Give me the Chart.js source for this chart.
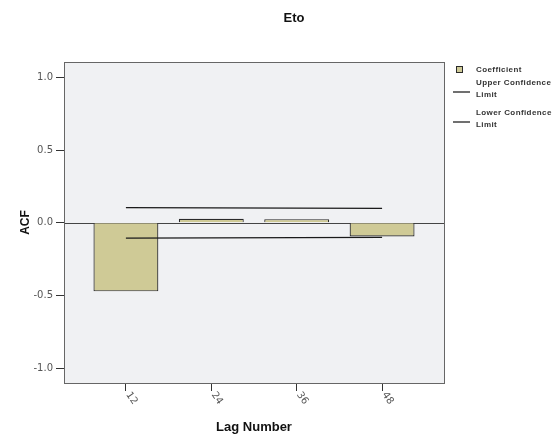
<!DOCTYPE html>
<html>
<head>
<meta charset="utf-8">
<script src="https://cdn.jsdelivr.net/npm/chart.js@4"></script>
<style>
  html, body { margin: 0; padding: 0; background: #fff; }
  #wrap { width: 557px; height: 435px; position: relative; }
</style>
</head>
<body>
<div id="wrap"><canvas id="acf"></canvas></div>
<script>
const chartTitle = 'Eto';
const lags = [12, 24, 36, 48];
const coefficient = [-0.472, 0.027, 0.025, -0.094];
const upperLimit = [0.105, 0.103, 0.101, 0.099];
const lowerLimit = [-0.105, -0.104, -0.102, -0.100];
const yTicks = [-1.0, -0.5, 0.0, 0.5, 1.0];
const legendItems = [
  { kind: 'box', lines: ['Coefficient'] },
  { kind: 'line', lines: ['Upper Confidence', 'Limit'] },
  { kind: 'line', lines: ['Lower Confidence', 'Limit'] }
];

const barFill = '#cfca96';
const edge = '#2a2a2a';

const pts = arr => arr.map((v, i) => ({ x: lags[i], y: v }));

const framePlugin = {
  id: 'frame',
  beforeDraw(chart) {
    const { ctx, chartArea: a } = chart;
    ctx.save();
    ctx.fillStyle = '#f0f1f3';
    ctx.fillRect(a.left, a.top, a.right - a.left, a.bottom - a.top);
    ctx.restore();
  },
  beforeDatasetsDraw(chart) {
    const { ctx, chartArea: a, scales } = chart;
    const y0 = Math.round(scales.y.getPixelForValue(0)) + 0.5;
    ctx.save();
    ctx.strokeStyle = '#444';
    ctx.lineWidth = 1.2;
    ctx.beginPath();
    ctx.moveTo(a.left, y0);
    ctx.lineTo(a.right, y0);
    ctx.stroke();
    ctx.restore();
  },
  afterDraw(chart) {
    const { ctx, chartArea: a, scales } = chart;
    ctx.save();
    ctx.strokeStyle = '#666';
    ctx.lineWidth = 1;
    ctx.strokeRect(Math.round(a.left) + 0.5, Math.round(a.top) + 0.5,
      Math.round(a.right - a.left), Math.round(a.bottom - a.top));

    // title
    ctx.fillStyle = '#111';
    ctx.font = 'bold 13px "Liberation Sans", Arial, sans-serif';
    ctx.textAlign = 'center';
    ctx.textBaseline = 'middle';
    ctx.fillText(chartTitle, 294, 18);

    // rotated x tick labels
    ctx.fillStyle = '#555';
    ctx.font = '10px "DejaVu Sans", sans-serif';
    ctx.textAlign = 'left';
    ctx.textBaseline = 'middle';
    lags.forEach(l => {
      const x = scales.x.getPixelForValue(l);
      ctx.save();
      ctx.translate(x + 2, a.bottom + 10);
      ctx.rotate(55 * Math.PI / 180);
      ctx.fillText(String(l), 0, 0);
      ctx.restore();
    });

    // legend
    const lx = 453, textX = 476;
    let ty = 70;
    ctx.font = 'bold 8px "Liberation Sans", Arial, sans-serif';
    ctx.letterSpacing = '0.4px';
    ctx.fillStyle = '#333';
    legendItems.forEach(item => {
      if (item.kind === 'box') {
        ctx.fillStyle = barFill;
        ctx.fillRect(456.5, ty - 3.5, 6, 6);
        ctx.strokeStyle = edge;
        ctx.lineWidth = 1;
        ctx.strokeRect(456.5, ty - 3.5, 6, 6);
        ctx.fillStyle = '#333';
        ctx.fillText(item.lines[0], textX, ty);
        ty += 13;
      } else {
        ctx.strokeStyle = '#222';
        ctx.lineWidth = 1.3;
        ctx.beginPath();
        ctx.moveTo(lx, ty + 9);
        ctx.lineTo(lx + 17, ty + 9);
        ctx.stroke();
        ctx.fillText(item.lines[0], textX, ty);
        ctx.fillText(item.lines[1], textX, ty + 11.5);
        ty += 30;
      }
    });
    ctx.restore();
  }
};

new Chart(document.getElementById('acf'), {
  type: 'bar',
  data: {
    datasets: [
      {
        type: 'bar',
        label: 'Coefficient',
        data: pts(coefficient),
        backgroundColor: barFill,
        borderColor: edge,
        borderWidth: 1.2,
        barPercentage: 0.76,
        categoryPercentage: 1,
        order: 2
      },
      {
        type: 'line',
        label: 'Upper Confidence Limit',
        data: pts(upperLimit),
        borderColor: '#1a1a1a',
        borderWidth: 1.2,
        pointRadius: 0,
        fill: false,
        order: 1
      },
      {
        type: 'line',
        label: 'Lower Confidence Limit',
        data: pts(lowerLimit),
        borderColor: '#1a1a1a',
        borderWidth: 1.2,
        pointRadius: 0,
        fill: false,
        order: 1
      }
    ]
  },
  options: {
    responsive: true,
    maintainAspectRatio: false,
    animation: false,
    layout: { padding: { top: 62, right: 113, left: 0, bottom: 0 } },
    plugins: {
      legend: { display: false },
      title: { display: false },
      tooltip: { enabled: false }
    },
    scales: {
      x: {
        type: 'linear',
        min: 3.3,
        max: 56.7,
        offset: false,
        afterBuildTicks: s => { s.ticks = lags.map(v => ({ value: v })); },
        afterFit: s => { s.height = 52; },
        ticks: { display: false },
        grid: { drawOnChartArea: false, drawTicks: true, tickLength: 8, tickColor: '#333', offset: false },
        border: { display: false },
        title: {
          display: true,
          text: 'Lag Number',
          color: '#111',
          font: { family: '"Liberation Sans", Arial, sans-serif', size: 13, weight: 'bold' },
          padding: { top: 0, bottom: 0 }
        }
      },
      y: {
        min: -1.103,
        max: 1.107,
        afterBuildTicks: s => { s.ticks = yTicks.map(v => ({ value: v })); },
        afterFit: s => { s.width = 64; },
        ticks: {
          color: '#555',
          padding: 3,
          font: { family: '"DejaVu Sans", sans-serif', size: 10 },
          callback: v => v.toFixed(1)
        },
        grid: { drawOnChartArea: false, drawTicks: true, tickLength: 8, tickColor: '#333' },
        border: { display: false },
        title: {
          display: true,
          text: 'ACF',
          color: '#111',
          font: { family: '"Liberation Sans", Arial, sans-serif', size: 12, weight: 'bold' },
          padding: { top: 18, bottom: 0 }
        }
      }
    }
  },
  plugins: [framePlugin]
});
</script>
</body>
</html>
